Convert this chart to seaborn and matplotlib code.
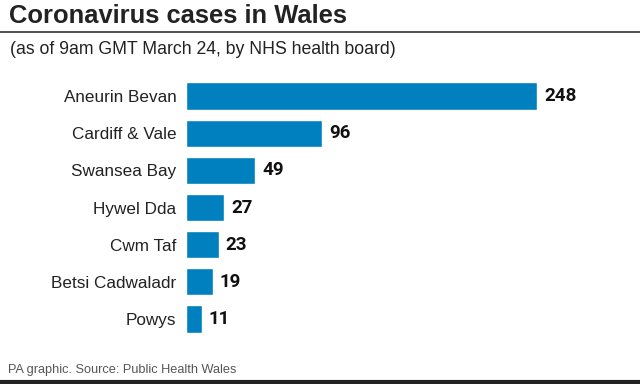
import matplotlib
matplotlib.use("Agg")
import matplotlib.pyplot as plt
import pandas as pd
import seaborn as sns

boards = ["Aneurin Bevan", "Cardiff & Vale", "Swansea Bay", "Hywel Dda",
          "Cwm Taf", "Betsi Cadwaladr", "Powys"]
cases = [248, 96, 49, 27, 23, 19, 11]

title = "Coronavirus cases in Wales"
subtitle = "(as of 9am GMT March 24, by NHS health board)"
source = "PA graphic. Source: Public Health Wales"

BLUE = "#0080bf"

sns.set_theme(style="white")
plt.rcParams["font.family"] = ["Liberation Sans", "DejaVu Sans"]

df = pd.DataFrame({"board": boards, "cases": cases})

fig = plt.figure(figsize=(6.4, 3.84), dpi=100)
ax = fig.add_axes([186 / 640, 1 - 337.6 / 384, 1 - 186 / 640, (337.6 - 77.4) / 384])
sns.barplot(data=df, x="cases", y="board", color=BLUE, saturation=1,
            width=0.73, ax=ax)
ax.set_xlim(0, 454 / 1.416)
ax.set_xlabel("")
ax.set_ylabel("")
ax.set_xticks([])
ax.tick_params(axis="y", length=0, pad=7, labelsize=12.3, labelcolor="#222222")
sns.despine(ax=ax, left=True, bottom=True)

for i, v in enumerate(cases):
    ax.text(v + 5, i, str(v), va="center", ha="left", family="Roboto",
            fontsize=13.5, fontweight="bold", color="#111111")

fig.text(9 / 640, 1 - 16 / 384, title, fontsize=18.4, fontweight="bold",
         color="#222222", va="center", ha="left")
fig.add_artist(plt.Line2D([0, 1], [1 - 32 / 384, 1 - 32 / 384],
                          color="#333333", lw=1.2))
fig.text(10 / 640, 1 - 49 / 384, subtitle, fontsize=12.7,
         color="#222222", va="center", ha="left")
fig.text(8 / 640, 1 - 370 / 384, source, fontsize=9.2,
         color="#555555", va="center", ha="left")
fig.add_artist(plt.Line2D([0, 1], [1 - 382 / 384, 1 - 382 / 384],
                          color="#222222", lw=3))

fig.savefig("out.png", dpi=100)
